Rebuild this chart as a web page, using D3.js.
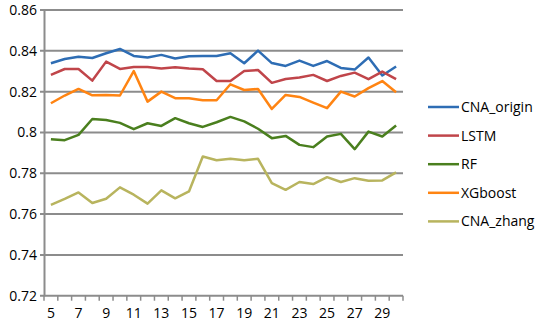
<!DOCTYPE html>
<html>
<head>
<meta charset="utf-8">
<script src="https://cdn.jsdelivr.net/npm/d3@7"></script>
<style>
  body { margin: 0; background: #fff; }
  text { font-family: "Open Sans", "Noto Sans", sans-serif; fill: #000; }
</style>
</head>
<body>
<div id="chart"></div>
<script>
const windows = d3.range(5, 31);
const yTicks = [0.72, 0.74, 0.76, 0.78, 0.8, 0.82, 0.84, 0.86];
const xTickLabels = [5, 7, 9, 11, 13, 15, 17, 19, 21, 23, 25, 27, 29];

const cnaOrigin = [0.8339, 0.836, 0.8371, 0.8365, 0.8388, 0.8409, 0.8375, 0.8367, 0.838, 0.8362, 0.8373, 0.8375, 0.8375,
  0.8388, 0.8339, 0.8401, 0.834, 0.8326, 0.8352, 0.8326, 0.835, 0.8316, 0.8308, 0.8367, 0.8279, 0.8323];
const lstm = [0.8282, 0.8311, 0.8311, 0.8254, 0.8347, 0.8311, 0.8321, 0.8321, 0.8313, 0.832, 0.8313, 0.831, 0.8252,
  0.8252, 0.8301, 0.8306, 0.8243, 0.8262, 0.8269, 0.8282, 0.8252, 0.8277, 0.8293, 0.8261, 0.8298, 0.8261];
const rf = [0.7967, 0.7962, 0.7988, 0.8066, 0.8061, 0.8047, 0.8016, 0.8045, 0.8032, 0.807, 0.8045, 0.8027, 0.805,
  0.8076, 0.8054, 0.8018, 0.7972, 0.7983, 0.7939, 0.7928, 0.798, 0.7993, 0.7918, 0.8004, 0.798, 0.8034];
const xgboost = [0.8143, 0.8181, 0.8213, 0.8182, 0.8184, 0.8181, 0.8301, 0.8151, 0.82, 0.8168, 0.8168, 0.8158, 0.8158,
  0.8236, 0.8208, 0.8213, 0.8115, 0.8184, 0.8174, 0.8146, 0.8119, 0.82, 0.8176, 0.8217, 0.8252, 0.8197];
const cnaZhang = [0.7645, 0.7674, 0.7706, 0.7654, 0.7675, 0.7731, 0.7695, 0.7651, 0.7716, 0.7677, 0.7711, 0.7882, 0.7864,
  0.7871, 0.7864, 0.7871, 0.7752, 0.7719, 0.7757, 0.7747, 0.7781, 0.7757, 0.7776, 0.7763, 0.7765, 0.7804];

const seriesNames = ["CNA_origin", "LSTM", "RF", "XGboost", "CNA_zhang"];
const seriesValues = [cnaOrigin, lstm, rf, xgboost, cnaZhang];
const seriesColors = ["#2E6DB4", "#C0454A", "#4A7F1E", "#FF8412", "#B8B45E"];

const width = 536, height = 328;
const margin = { top: 10, right: 133, bottom: 32, left: 44 };

const svg = d3.select("#chart").append("svg")
  .attr("width", width)
  .attr("height", height);

const x = d3.scaleBand()
  .domain(windows)
  .range([margin.left, width - margin.right]);

const y = d3.scaleLinear()
  .domain([0.72, 0.86])
  .range([height - margin.bottom - 0.3, margin.top]);

// gridlines
svg.append("g")
  .selectAll("line")
  .data(yTicks)
  .join("line")
  .attr("x1", margin.left - 4)
  .attr("x2", width - margin.right)
  .attr("y1", d => y(d))
  .attr("y2", d => y(d))
  .attr("stroke", "#8c8c8c")
  .attr("stroke-width", 2);

// y axis
const yAxis = svg.append("g")
  .attr("transform", `translate(${margin.left},0)`)
  .call(d3.axisLeft(y).tickValues(yTicks).tickSize(0).tickPadding(7)
    .tickFormat(d => d3.format("")(+d.toFixed(2))));
yAxis.select(".domain").attr("stroke", "#8c8c8c").attr("stroke-width", 2);
yAxis.selectAll("text").style("font-size", "14px");

// x axis: ticks sit between categories
const xAxisG = svg.append("g")
  .attr("transform", `translate(0,${y(0.72)})`);
xAxisG.selectAll("line")
  .data(windows.concat([31]))
  .join("line")
  .attr("x1", d => d === 31 ? x.range()[1] : x(d))
  .attr("x2", d => d === 31 ? x.range()[1] : x(d))
  .attr("y1", 0)
  .attr("y2", 5)
  .attr("stroke", "#8c8c8c")
  .attr("stroke-width", 1.5);
xAxisG.selectAll("text")
  .data(xTickLabels)
  .join("text")
  .attr("x", d => x(d) + x.bandwidth() / 2)
  .attr("y", 22)
  .attr("text-anchor", "middle")
  .style("font-size", "14px")
  .text(d => d);

// lines
const line = d3.line()
  .x((d, i) => x(windows[i]) + x.bandwidth() / 2)
  .y(d => y(d));

svg.append("g")
  .selectAll("path")
  .data(seriesValues)
  .join("path")
  .attr("d", d => line(d))
  .attr("fill", "none")
  .attr("stroke", (d, i) => seriesColors[i])
  .attr("stroke-width", 2.5)
  .attr("stroke-linejoin", "round");

// legend
const legend = svg.append("g")
  .attr("transform", "translate(428,107)")
  .selectAll("g")
  .data(seriesNames)
  .join("g")
  .attr("transform", (d, i) => `translate(0,${i * 28.6})`);
legend.append("line")
  .attr("x1", 0).attr("x2", 31)
  .attr("stroke", (d, i) => seriesColors[i])
  .attr("stroke-width", 2.5);
legend.append("text")
  .attr("x", 33)
  .attr("dy", "0.35em")
  .style("font-size", "14px")
  .text(d => d);
</script>
</body>
</html>
